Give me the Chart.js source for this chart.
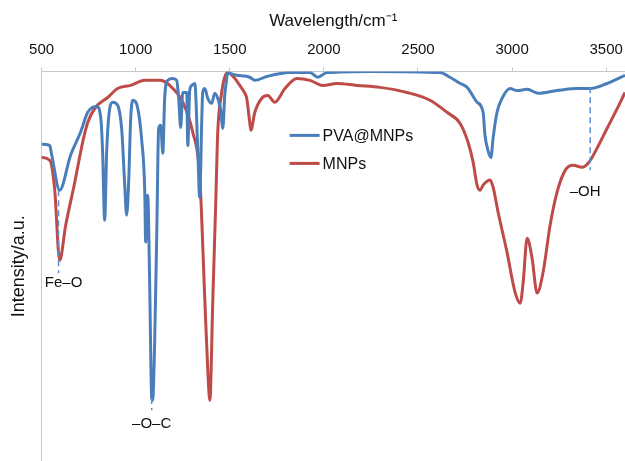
<!DOCTYPE html>
<html>
<head>
<meta charset="utf-8">
<script src="https://cdn.jsdelivr.net/npm/chart.js@4/dist/chart.umd.min.js"></script>
<style>
  html, body { margin: 0; padding: 0; background: #fff; }
  #wrap { width: 625px; height: 461px; position: relative; }
</style>
</head>
<body>
<div id="wrap"><canvas id="chartFtir"></canvas></div>
<script>
// wavenumber (cm-1) and relative transmittance
var pvaX = [500, 543, 554, 596, 654, 707, 745, 771, 793, 814, 824, 835, 846, 862, 878, 904, 926, 941, 952, 963, 973, 984,
    1011, 1032, 1048, 1053, 1059, 1064, 1074, 1085, 1090, 1101, 1112, 1122, 1133, 1144, 1154, 1170, 1197, 1218, 1229, 1239,
    1250, 1271, 1277, 1287, 1298, 1314, 1330, 1340, 1351, 1356, 1367, 1383, 1404, 1420, 1436, 1452, 1463, 1473, 1479, 1489,
    1537, 1606, 1633, 1697, 1819, 1926, 1968, 2016, 2261, 2617, 2670, 2713, 2761, 2814, 2846, 2856, 2872, 2888, 2899, 2920,
    2947, 2989, 3027, 3080, 3138, 3239, 3346, 3415, 3505, 3600];
var pvaY = [81.3, 81.0, 78.5, 69.5, 78.5, 84.4, 89.5, 90.8, 91.0, 88.2, 79.7, 61.8, 79.7, 90.5, 92.1, 91.3, 84.9, 71.5, 63.1, 72.1, 87.4, 92.6,
    90.5, 82.3, 69.5, 56.2, 66.9, 68.2, 46.4, 16.2, 15.6, 31.0, 58.7, 85.4, 86.2, 79.0, 93.1, 97.7, 98.2, 97.7, 92.6, 85.6,
    94.6, 94.6, 81.0, 95.1, 96.4, 96.9, 79.7, 67.7, 87.4, 94.6, 95.6, 93.1, 91.8, 94.4, 93.1, 90.0, 85.4, 93.8, 96.4, 99.5,
    99.0, 98.5, 97.7, 98.7, 99.7, 99.7, 98.5, 99.7, 100, 99.7, 98.5, 97.2, 95.9, 92.1, 89.5, 83.6, 79.7, 77.9, 82.8, 89.5,
    93.1, 95.6, 95.1, 95.4, 94.4, 95.1, 95.6, 95.6, 96.9, 99.0];

var mnpX = [500, 543, 569, 596, 628, 676, 718, 745, 787, 851, 904, 973, 1048, 1128, 1181, 1250, 1303, 1340, 1367, 1383, 1394,
    1410, 1426, 1436, 1457, 1473, 1489, 1527, 1553, 1580, 1590, 1606, 1612, 1633, 1670, 1702, 1739, 1793, 1856, 1926, 1995,
    2069, 2176, 2298, 2441, 2564, 2654, 2723, 2766, 2793, 2814, 2830, 2846, 2883, 2899, 2926, 2973, 3016, 3043, 3059, 3080,
    3106, 3133, 3165, 3202, 3239, 3282, 3324, 3372, 3404, 3452, 3505, 3559, 3600];
var mnpY = [77.9, 77.2, 70.0, 51.5, 60.5, 71.5, 81.8, 86.9, 90.8, 93.3, 95.6, 96.4, 97.7, 97.7, 96.4, 92.1, 84.4, 73.3, 41.8, 23.3, 15.6,
    41.8, 67.4, 84.4, 94.6, 98.5, 99.7, 98.2, 96.4, 94.4, 93.1, 86.9, 84.9, 89.5, 93.1, 93.8, 92.1, 95.6, 98.2, 97.7, 96.4,
    96.9, 96.4, 95.9, 94.6, 92.6, 89.5, 86.7, 81.8, 76.7, 70.8, 69.5, 70.8, 72.1, 70.3, 63.8, 53.6, 43.3, 40.5, 45.9, 57.2,
    52.1, 43.1, 48.5, 60.5, 69.0, 74.6, 75.9, 75.4, 76.4, 80.3, 85.4, 90.5, 94.6];

var seriesNames = ['PVA@MNPs', 'MNPs'];
var xTicks = [500, 1000, 1500, 2000, 2500, 3000, 3500];

// band markers: label, wavenumber, dashed line from/to, label position
var bandLabels = ['Fe\u2013O', '\u2013O\u2013C', '\u2013OH'];
var bandX = [590, 1085, 3415];
var bandFrom = [69.5, 16.2, 95.9];
var bandTo = [48.2, 13.0, 74.6];
var labelX = [617, 1085, 3388];
var labelY = [45.6, 9.5, 69.0];

function toPoints(xs, ys) {
    return xs.map(function(x, i) { return { x: x, y: ys[i] }; });
}

var bandPlugin = {
    id: 'bands',
    afterDatasetsDraw: function(chart) {
        var ctx = chart.ctx;
        var sx = chart.scales.x, sy = chart.scales.y;
        ctx.save();
        ctx.strokeStyle = '#5b8fd4';
        ctx.lineWidth = 1.5;
        ctx.setLineDash([6, 4]);
        for (var i = 0; i < bandX.length; i++) {
            var px = sx.getPixelForValue(bandX[i]);
            ctx.beginPath();
            ctx.moveTo(px, sy.getPixelForValue(bandFrom[i]));
            ctx.lineTo(px, sy.getPixelForValue(bandTo[i]));
            ctx.stroke();
        }
        ctx.setLineDash([]);
        ctx.fillStyle = '#111';
        ctx.font = "15px 'Liberation Sans', Arial, sans-serif";
        ctx.textAlign = 'center';
        ctx.textBaseline = 'middle';
        for (var j = 0; j < bandLabels.length; j++) {
            ctx.fillText(bandLabels[j], sx.getPixelForValue(labelX[j]), sy.getPixelForValue(labelY[j]));
        }

        // legend inside the plot
        var area = chart.chartArea;
        var lx = area.left + 248, ly = area.top + 64;
        ctx.font = "16px 'Liberation Sans', Arial, sans-serif";
        ctx.textAlign = 'left';
        chart.data.datasets.forEach(function(ds, k) {
            var y = ly + k * 28;
            ctx.strokeStyle = ds.borderColor;
            ctx.lineWidth = 3;
            ctx.beginPath();
            ctx.moveTo(lx, y);
            ctx.lineTo(lx + 30, y);
            ctx.stroke();
            ctx.fillStyle = '#111';
            ctx.fillText(ds.label, lx + 33, y + 1);
        });
        ctx.restore();
    }
};

document.addEventListener('DOMContentLoaded', function() {
    Chart.defaults.font.family = "'Liberation Sans', Arial, sans-serif";
    Chart.defaults.color = '#111';
    var ctx = document.getElementById('chartFtir').getContext('2d');
    new Chart(ctx, {
        type: 'line',
        data: {
            datasets: [{
                label: seriesNames[0],
                data: toPoints(pvaX, pvaY),
                borderColor: '#4a7ebb',
                borderWidth: 3,
                pointRadius: 0,
                cubicInterpolationMode: 'monotone'
            }, {
                label: seriesNames[1],
                data: toPoints(mnpX, mnpY),
                borderColor: '#be4b48',
                borderWidth: 3,
                pointRadius: 0,
                cubicInterpolationMode: 'monotone'
            }]
        },
        options: {
            responsive: true,
            maintainAspectRatio: false,
            animation: false,
            layout: { padding: { left: 4, top: 8, right: 0, bottom: 0 } },
            plugins: {
                legend: { display: false },
                tooltip: { enabled: false }
            },
            scales: {
                x: {
                    type: 'linear',
                    position: 'top',
                    min: 500,
                    max: 3600,
                    afterBuildTicks: function(scale) {
                        scale.ticks = xTicks.map(function(v) { return { value: v }; });
                    },
                    afterFit: function(scale) {
                        scale.paddingRight = 0;
                    },
                    ticks: {
                        padding: 9,
                        autoSkip: false,
                        font: { size: 15 },
                        color: '#111',
                        maxRotation: 0,
                        callback: function(v) { return String(v); }
                    },
                    grid: { drawOnChartArea: false, drawTicks: true, tickLength: 4, color: '#c8c8c8' },
                    border: { color: '#c8c8c8', width: 1 },
                    title: {
                        display: true,
                        text: 'Wavelength/cm\u207B\u00B9',
                        font: { size: 17 },
                        color: '#111',
                        padding: { top: 3, bottom: 0 }
                    }
                },
                y: {
                    min: 0,
                    max: 100,
                    ticks: { display: false },
                    grid: { display: false, drawTicks: false },
                    border: { display: true, color: '#c8c8c8', width: 1 },
                    title: {
                        display: true,
                        text: 'Intensity/a.u.',
                        font: { size: 18 },
                        color: '#111',
                        padding: { top: 4, bottom: 12 }
                    }
                }
            }
        },
        plugins: [bandPlugin]
    });
});
</script>
</body>
</html>
